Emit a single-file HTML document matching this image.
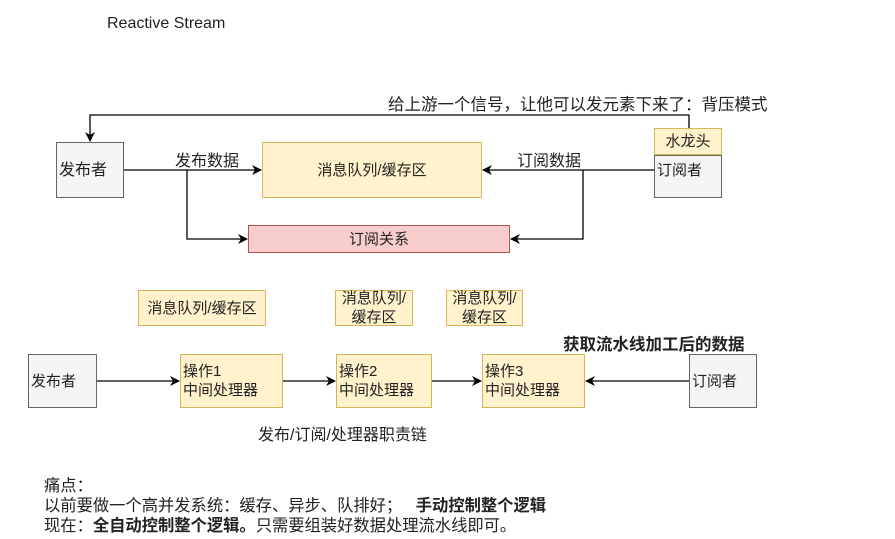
<!DOCTYPE html>
<html><head><meta charset="utf-8"><style>
body{margin:0;background:#fff;width:895px;height:539px;overflow:hidden;position:relative;font-family:"Liberation Sans","Noto Sans CJK SC",sans-serif;font-size:15px;color:#222}
.b{position:absolute;box-sizing:border-box;display:flex;align-items:center;justify-content:center;text-align:center;line-height:19px}
.g{background:#f5f5f5;border:1px solid #666}
.y{background:#fff2cc;border:1px solid #d6b656}
.r{background:#f8cecc;border:1px solid #b85450}
.t{position:absolute;white-space:nowrap}
.l{justify-content:flex-start;text-align:left;padding-left:2px}
</style></head><body>
<svg width="895" height="539" style="position:absolute;left:0;top:0">
<defs><marker id="a" markerWidth="10" markerHeight="10" refX="9" refY="5" orient="auto" markerUnits="userSpaceOnUse"><path d="M0,0 L10,5 L0,10 L3,5z" fill="#000"/></marker></defs>
<g stroke="#000" stroke-width="1.3" fill="none">
<path d="M689,128 V115 H90 V141" marker-end="url(#a)"/>
<path d="M124,170 H261" marker-end="url(#a)"/>
<path d="M187,170 V239 H247" marker-end="url(#a)"/>
<path d="M654,170 H483" marker-end="url(#a)"/>
<path d="M583,170 V239 H511" marker-end="url(#a)"/>
<path d="M97,381 H179" marker-end="url(#a)"/>
<path d="M283,381 H335" marker-end="url(#a)"/>
<path d="M432,381 H481" marker-end="url(#a)"/>
<path d="M689,381 H586" marker-end="url(#a)"/>
</g></svg>
<div class="t" style="left:107px;top:15px;font-size:16px">Reactive Stream</div>
<div class="t" style="left:388px;top:91px;font-size:16.5px">给上游一个信号，让他可以发元素下来了：背压模式</div>
<div class="b g l" style="left:56px;top:142px;width:68px;height:56px;font-size:16px">发布者</div>
<div class="b y" style="left:262px;top:142px;width:220px;height:56px">消息队列/缓存区</div>
<div class="b y" style="left:654px;top:128px;width:68px;height:27px">水龙头</div>
<div class="b g l" style="left:654px;top:155px;width:68px;height:43px;align-items:flex-start;padding-top:5px">订阅者</div>
<div class="b r" style="left:248px;top:225px;width:262px;height:28px">订阅关系</div>
<div class="t" style="left:175px;top:147px;font-size:16px">发布数据</div>
<div class="t" style="left:517px;top:147px;font-size:16px">订阅数据</div>
<div class="b y" style="left:138px;top:290px;width:128px;height:36px">消息队列/缓存区</div>
<div class="b y" style="left:335px;top:290px;width:78px;height:36px">消息队列/<br>缓存区</div>
<div class="b y" style="left:446px;top:290px;width:77px;height:36px">消息队列/<br>缓存区</div>
<div class="t" style="left:563px;top:331px;font-weight:bold;font-size:16.5px">获取流水线加工后的数据</div>
<div class="b g l" style="left:28px;top:354px;width:69px;height:54px">发布者</div>
<div class="b y l" style="left:180px;top:354px;width:103px;height:54px">操作1<br>中间处理器</div>
<div class="b y l" style="left:336px;top:354px;width:96px;height:54px">操作2<br>中间处理器</div>
<div class="b y l" style="left:482px;top:354px;width:103px;height:54px">操作3<br>中间处理器</div>
<div class="b g l" style="left:689px;top:354px;width:68px;height:54px">订阅者</div>
<div class="t" style="left:258px;top:421px;font-size:16px">发布/订阅/处理器职责链</div>
<div class="t" style="left:44px;top:476px;line-height:20px;font-size:16.3px">痛点：<br>以前要做一个高并发系统：缓存、异步、队排好；&nbsp;&nbsp;&nbsp;<b>手动控制整个逻辑</b><br>现在：<b>全自动控制整个逻辑。</b>只需要组装好数据处理流水线即可。</div>
</body></html>
